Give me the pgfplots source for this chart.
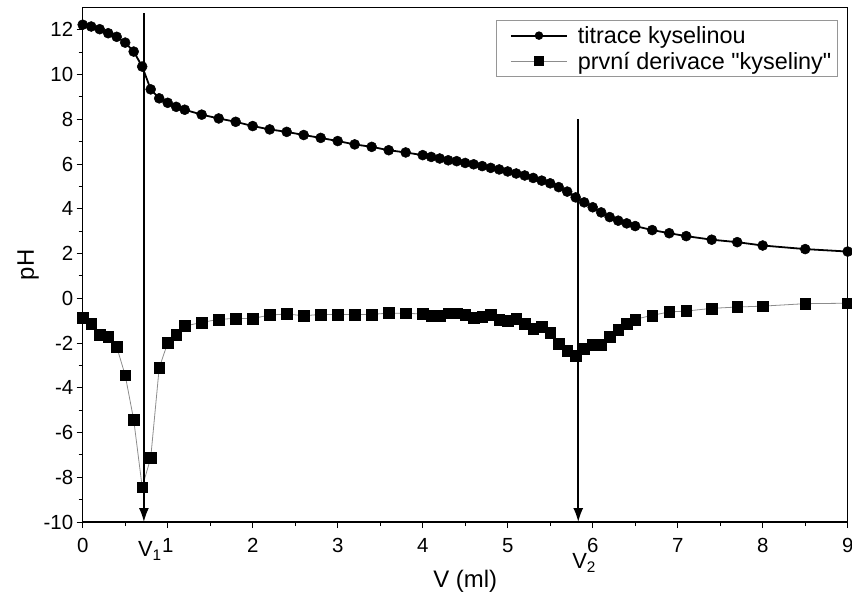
\documentclass[border=0pt]{standalone}
\usepackage{pgfplots}
\pgfplotsset{compat=1.18}
\usepackage{fontspec}
\setmainfont{Liberation Sans}[Ligatures=TeXOff]
\usetikzlibrary{arrows.meta}
\definecolor{dgray}{RGB}{140,140,140}
\definecolor{lgray}{RGB}{150,150,150}
\begin{document}
\begin{tikzpicture}
\begin{axis}[
  scale only axis,
  width=765bp, height=514.5bp,
  xmin=0, xmax=9, ymin=-10, ymax=13,
  xtick={0,1,...,9}, minor xtick={0.5,1.5,...,8.5},
  ytick={-10,-8,...,12}, minor ytick={-9,-7,...,11},
  xtick pos=bottom, ytick pos=left,
  tick align=outside,
  major tick length=6bp, minor tick length=4bp,
  every tick/.style={black, line width=1pt},
  axis line style={line width=1.4pt},
  /pgf/number format/assume math mode=true,
  tick label style={font=\fontsize{20.5}{23}\selectfont},
  xticklabel style={yshift=-7bp},
  xlabel={V (ml)}, ylabel={pH},
  label style={font=\fontsize{24}{26}\selectfont},
  xlabel style={yshift=-10bp},
  ylabel style={yshift=-2bp},
  clip=false,
  legend style={at={(axis description cs:1,1)}, anchor=north east, xshift=-10bp, yshift=-12.5bp,
    draw=lgray, line width=0.8pt, font=\fontsize{23.5}{26}\selectfont, row sep=3bp,
    inner xsep=4bp, inner ysep=4bp},
  legend cell align=left,
]
\addplot[black, line width=1.8pt, mark=*, mark size=5bp, mark options={solid, line width=0.5pt},
  legend image code/.code={\path (-10bp,0bp) (64bp,0bp);
    \draw[black, line width=1.8pt] (0bp,0bp) -- (56bp,0bp);
    \fill[black] (28bp,0bp) circle (3.3bp);}]
coordinates {
(0,12.23)(0.1,12.15)(0.2,12.03)(0.3,11.85)(0.4,11.69)(0.5,11.43)(0.6,11.03)(0.7,10.36)
(0.8,9.34)(0.9,8.94)(1.0,8.74)(1.1,8.56)(1.2,8.43)(1.4,8.21)(1.6,8.04)(1.8,7.89)
(2.0,7.70)(2.2,7.55)(2.4,7.44)(2.6,7.30)(2.8,7.17)(3.0,7.03)(3.2,6.88)(3.4,6.77)
(3.6,6.62)(3.8,6.52)(4.0,6.40)(4.1,6.32)(4.2,6.25)(4.3,6.17)(4.4,6.13)(4.5,6.05)
(4.6,5.99)(4.7,5.91)(4.8,5.83)(4.9,5.76)(5.0,5.67)(5.1,5.58)(5.2,5.49)(5.3,5.38)
(5.4,5.26)(5.5,5.14)(5.6,4.97)(5.7,4.77)(5.8,4.51)(5.9,4.29)(6.0,4.07)(6.1,3.84)
(6.2,3.63)(6.3,3.47)(6.4,3.35)(6.5,3.23)(6.7,3.05)(6.9,2.91)(7.1,2.78)(7.4,2.62)
(7.7,2.51)(8.0,2.36)(8.5,2.20)(9.0,2.09)
};
\addlegendentry{titrace kyselinou}
\addplot[dgray, line width=0.8pt, mark=square*, mark size=5.4bp, mark options={solid, black, fill=black, line width=0.4pt},
  legend image code/.code={\path (-10bp,0bp) (64bp,0bp);
    \draw[dgray, line width=0.8pt] (0bp,0bp) -- (56bp,0bp);
    \fill[black] (23.5bp,-4.5bp) rectangle (32.5bp,4.5bp);}]
coordinates {
(0,-0.87)(0.1,-1.15)(0.2,-1.61)(0.3,-1.72)(0.4,-2.17)(0.5,-3.44)(0.6,-5.43)(0.7,-8.44)
(0.8,-7.14)(0.9,-3.11)(1.0,-1.99)(1.1,-1.61)(1.2,-1.24)(1.4,-1.08)(1.6,-0.94)(1.8,-0.90)
(2.0,-0.90)(2.2,-0.75)(2.4,-0.70)(2.6,-0.78)(2.8,-0.72)(3.0,-0.72)(3.2,-0.72)(3.4,-0.72)
(3.6,-0.66)(3.8,-0.67)(4.0,-0.70)(4.1,-0.78)(4.2,-0.78)(4.3,-0.67)(4.4,-0.67)(4.5,-0.75)
(4.6,-0.85)(4.7,-0.83)(4.8,-0.75)(4.9,-0.94)(5.0,-1.00)(5.1,-0.92)(5.2,-1.12)(5.3,-1.35)
(5.4,-1.27)(5.5,-1.52)(5.6,-2.02)(5.7,-2.36)(5.8,-2.56)(5.9,-2.24)(6.0,-2.06)(6.1,-2.06)
(6.2,-1.72)(6.3,-1.42)(6.4,-1.12)(6.5,-0.94)(6.7,-0.76)(6.9,-0.61)(7.1,-0.57)(7.4,-0.45)
(7.7,-0.39)(8.0,-0.35)(8.5,-0.24)(9.0,-0.22)
};
\addlegendentry{první derivace "kyseliny"}
\draw[black, line width=1.6pt, -{Latex[length=14bp,width=10bp]}] (axis cs:0.72,12.75) -- (axis cs:0.72,-10);
\draw[black, line width=1.6pt, -{Latex[length=14bp,width=10bp]}] (axis cs:5.83,8.0) -- (axis cs:5.83,-10);
\node[anchor=north, font=\fontsize{22}{24}\selectfont] at (axis cs:0.79,-10) [yshift=-16bp] {V\textsubscript{1}};
\node[anchor=north, font=\fontsize{22}{24}\selectfont] at (axis cs:5.90,-10) [yshift=-28bp] {V\textsubscript{2}};
\end{axis}
\pgfresetboundingbox
\path[use as bounding box] (current axis.south west) ++(-82.7bp,-74bp) rectangle ++(852bp,596bp);
\end{tikzpicture}
\end{document}
